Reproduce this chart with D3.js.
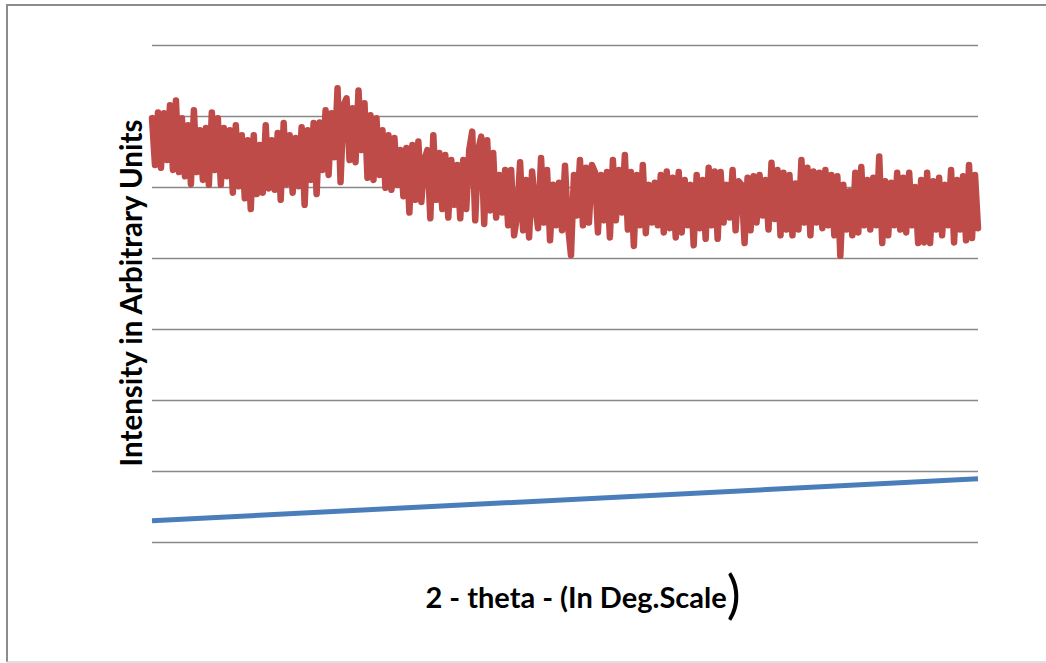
<!DOCTYPE html>
<html>
<head>
<meta charset="utf-8">
<script src="https://cdn.jsdelivr.net/npm/d3@7"></script>
<style>
  html, body { margin: 0; padding: 0; background: #ffffff; }
  svg { display: block; }
</style>
</head>
<body>
<div id="chart"></div>
<script>
// XRD scan: intensity (arbitrary units) against 2-theta, plus a reference baseline
const gridValues = [0, 100, 200, 300, 400, 500, 600, 700];

const sampleIntensity = [
  597, 531, 605, 527, 604, 538, 615, 524, 622, 521,
  597, 515, 587, 504, 608, 521, 580, 510, 583, 503,
  605, 524, 597, 503, 583, 515, 580, 492, 587, 501,
  573, 484, 566, 469, 573, 490, 559, 492, 587, 498,
  566, 496, 576, 482, 590, 504, 573, 492, 569, 501,
  584, 475, 580, 510, 590, 490, 591, 524, 608, 517,
  604, 542, 639, 507, 615, 625, 538, 611, 535, 636,
  552, 618, 513, 601, 510, 597, 517, 580, 499, 573,
  496, 569, 503, 552, 487, 555, 464, 559, 482, 564,
  479, 538, 552, 456, 573, 482, 548, 469, 545, 457,
  538, 475, 531, 456, 538, 469, 552, 578, 453, 552,
  571, 448, 566, 467, 548, 457, 517, 464, 524, 446,
  524, 432, 460, 535, 439, 510, 429, 522, 475, 442,
  541, 450, 524, 425, 503, 446, 506, 439, 530, 446,
  404, 517, 460, 538, 446, 527, 450, 531, 521, 436,
  517, 453, 521, 429, 538, 453, 524, 464, 545, 440,
  521, 417, 517, 446, 531, 435, 503, 450, 506, 446,
  517, 436, 522, 442, 513, 429, 521, 436, 510, 446,
  503, 418, 517, 442, 510, 427, 527, 446, 522, 427,
  521, 450, 503, 457, 524, 439, 508, 503, 421, 513,
  439, 515, 450, 517, 460, 510, 440, 534, 455, 524,
  432, 520, 440, 517, 432, 505, 440, 538, 450, 527,
  432, 522, 450, 520, 442, 524, 446, 517, 432, 515,
  403, 503, 440, 494, 432, 520, 436, 528, 446, 510,
  440, 513, 446, 543, 421, 508, 432, 506, 446, 520,
  440, 513, 436, 520, 446, 500, 421, 510, 422, 520,
  421, 508, 440, 513, 432, 503, 446, 524, 422, 510,
  440, 515, 425, 531, 428, 517, 442
];

// straight baseline: value at the first and at the last scan step
const baselineIndex = [0, sampleIntensity.length - 1];
const baselineIntensity = [30, 89];

const xTitle = "2 - theta - (In Deg.Scale";
const xTitleClose = ")";
const yTitle = "Intensity in Arbitrary Units";

const W = 1046, H = 663;
const plot = { left: 152, right: 978, top: 45, bottom: 542 };

const svg = d3.select("#chart").append("svg")
  .attr("width", W).attr("height", H);

svg.append("rect").attr("x", 0).attr("y", 0).attr("width", W).attr("height", H).attr("fill", "#fff");

// chart frame
svg.append("line").attr("x1", 7).attr("x2", 7).attr("y1", 5).attr("y2", 662)
  .attr("stroke", "#8c8c8c").attr("stroke-width", 2);
svg.append("line").attr("x1", 6).attr("x2", W).attr("y1", 5).attr("y2", 5)
  .attr("stroke", "#8c8c8c").attr("stroke-width", 2);
svg.append("line").attr("x1", 7).attr("x2", W).attr("y1", 662).attr("y2", 662)
  .attr("stroke", "#d4d4d4").attr("stroke-width", 1.5);

const x = d3.scaleLinear().domain([0, sampleIntensity.length - 1]).range([plot.left, plot.right]);
const y = d3.scaleLinear().domain([0, 700]).range([plot.bottom, plot.top]);

// horizontal gridlines
const grid = svg.append("g")
  .attr("transform", `translate(${plot.left},0)`)
  .call(d3.axisLeft(y).tickValues(gridValues).tickSize(-(plot.right - plot.left)).tickFormat(""));
grid.select(".domain").remove();
grid.selectAll(".tick line").attr("stroke", "#888888").attr("stroke-width", 1.7);

// baseline series
const baseLine = d3.line()
  .x((d, i) => x(baselineIndex[i]))
  .y(d => y(d));
svg.append("path")
  .datum(baselineIntensity)
  .attr("d", baseLine)
  .attr("fill", "none")
  .attr("stroke", "#4a7ebb")
  .attr("stroke-width", 5);

// sample scan
const scanLine = d3.line()
  .x((d, i) => x(i))
  .y(d => y(d));
svg.append("path")
  .datum(sampleIntensity)
  .attr("d", scanLine)
  .attr("fill", "none")
  .attr("stroke", "#be4b48")
  .attr("stroke-width", 6.5)
  .attr("stroke-linejoin", "round")
  .attr("stroke-linecap", "round");

// axis titles
const xt = svg.append("text")
  .attr("x", 583).attr("y", 608)
  .attr("text-anchor", "middle")
  .attr("font-family", "Lato, 'Open Sans', sans-serif")
  .attr("font-weight", 700)
  .attr("font-size", 29)
  .attr("fill", "#000");
xt.append("tspan").text(xTitle);
xt.append("tspan").attr("font-size", 52).attr("font-weight", 400).attr("dy", 5).text(xTitleClose);

svg.append("text")
  .attr("transform", "translate(142,293) rotate(-90)")
  .attr("text-anchor", "middle")
  .attr("font-family", "Lato, 'Open Sans', sans-serif")
  .attr("font-weight", 700)
  .attr("font-size", 29.5)
  .attr("fill", "#000")
  .text(yTitle);
</script>
</body>
</html>
